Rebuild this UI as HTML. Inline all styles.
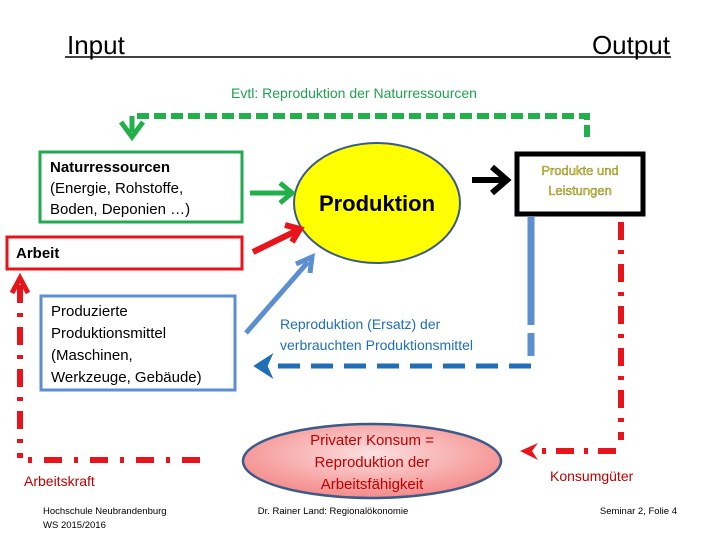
<!DOCTYPE html>
<html><head><meta charset="utf-8"><style>
html,body{margin:0;padding:0;background:#fff;}
svg{display:block;font-family:"Liberation Sans",sans-serif;}
</style></head><body>
<svg width="720" height="540" viewBox="0 0 720 540" xmlns="http://www.w3.org/2000/svg">
<defs>
<radialGradient id="pk" cx="50%" cy="40%" r="60%"><stop offset="0" stop-color="#fde0e0"/><stop offset="1" stop-color="#f48a8a"/></radialGradient>
</defs>
<!-- titles -->
<text x="67" y="54" font-size="26" fill="#000">Input</text>
<text x="670" y="54" font-size="26" fill="#000" text-anchor="end">Output</text>
<line x1="65" y1="57" x2="671" y2="57" stroke="#000" stroke-width="1.5"/>
<text x="354" y="98" font-size="14" fill="#22a050" text-anchor="middle">Evtl: Reproduktion der Naturressourcen</text>
<!-- green dashed -->
<path d="M587 137 V116 H132" fill="none" stroke="#22b04a" stroke-width="6" stroke-dasharray="12,5"/>
<line x1="132" y1="116" x2="132" y2="132" stroke="#22b04a" stroke-width="5"/>
<path d="M121 122 L132 137 L143 122" fill="none" stroke="#22b04a" stroke-width="5"/>
<!-- green box -->
<rect x="40" y="152" width="202" height="70" fill="#fff" stroke="#22aa50" stroke-width="3"/>
<text font-size="15" fill="#000"><tspan x="50" y="172" font-weight="bold">Naturressourcen</tspan><tspan x="50" y="193">(Energie, Rohstoffe,</tspan><tspan x="50" y="214">Boden, Deponien …)</tspan></text>
<!-- red Arbeit -->
<rect x="7" y="237" width="235" height="32" fill="#fff" stroke="#e8141c" stroke-width="3"/>
<text x="16" y="258" font-size="15" font-weight="bold" fill="#000">Arbeit</text>
<!-- blue box -->
<rect x="41" y="296" width="194" height="94" fill="#fff" stroke="#5b8fd0" stroke-width="3"/>
<text font-size="15" fill="#000"><tspan x="51" y="316">Produzierte</tspan><tspan x="51" y="338">Produktionsmittel</tspan><tspan x="51" y="360">(Maschinen,</tspan><tspan x="51" y="382">Werkzeuge, Gebäude)</tspan></text>
<!-- production ellipse -->
<ellipse cx="377" cy="203" rx="83" ry="60" fill="#ffff00" stroke="#3a5a8a" stroke-width="2"/>
<text x="377" y="211" font-size="22" font-weight="bold" fill="#000" text-anchor="middle">Produktion</text>
<!-- arrows into production -->
<line x1="250" y1="193" x2="288" y2="193" stroke="#22b04a" stroke-width="5"/>
<path d="M280 183 L292 193 L280 203" fill="none" stroke="#22b04a" stroke-width="5"/>
<line x1="253" y1="252" x2="296" y2="231" stroke="#e8141c" stroke-width="6"/>
<path d="M285 225 L300 229 L292 242" fill="none" stroke="#e8141c" stroke-width="6"/>
<line x1="246" y1="333" x2="308" y2="262" stroke="#5b8fd0" stroke-width="5"/>
<path d="M296 264 L312 257 L310 273" fill="none" stroke="#5b8fd0" stroke-width="5"/>
<line x1="472" y1="180" x2="503" y2="180" stroke="#000" stroke-width="6"/>
<path d="M492 167 L507 180 L492 193" fill="none" stroke="#000" stroke-width="6"/>
<!-- black box -->
<rect x="517" y="154" width="126" height="60" fill="#fff" stroke="#000" stroke-width="5"/>
<text font-size="13" fill="#e8e000" stroke="#444" stroke-width="0.3" text-anchor="middle"><tspan x="580" y="175">Produkte und</tspan><tspan x="580" y="195">Leistungen</tspan></text>
<!-- blue return -->
<line x1="531" y1="217" x2="531" y2="325" stroke="#5b8fd0" stroke-width="7"/>
<line x1="531" y1="333" x2="531" y2="356" stroke="#5b8fd0" stroke-width="7"/>
<line x1="531" y1="366" x2="275" y2="366" stroke="#1f6fb8" stroke-width="5" stroke-dasharray="22,11"/>
<path d="M270 357 L256 366 L270 375 L266 366 Z" fill="#1f6fb8" stroke="#1f6fb8" stroke-width="3"/>
<text font-size="14" fill="#1f6fb8"><tspan x="280" y="329">Reproduktion (Ersatz) der</tspan><tspan x="280" y="350">verbrauchten Produktionsmittel</tspan></text>
<!-- red right dash-dot -->
<line x1="621" y1="222" x2="621" y2="440" stroke="#e8141c" stroke-width="6" stroke-dasharray="18,10,4,10"/>
<line x1="616" y1="451" x2="540" y2="451" stroke="#e8141c" stroke-width="6" stroke-dasharray="18,10,4,10"/>
<path d="M538 443 L520 451 L538 460 L532 451 Z" fill="#e8141c"/>
<text x="550" y="481" font-size="14" fill="#c00000">Konsumgüter</text>
<!-- pink ellipse -->
<ellipse cx="372" cy="461" rx="129" ry="37" fill="url(#pk)" stroke="#3a5a8a" stroke-width="2.5"/>
<text font-size="15" fill="#c00000" text-anchor="middle"><tspan x="372" y="445">Privater Konsum =</tspan><tspan x="372" y="467">Reproduktion der</tspan><tspan x="372" y="489">Arbeitsfähigkeit</tspan></text>
<!-- red left dash-dot -->
<line x1="20" y1="285" x2="20" y2="458" stroke="#e8141c" stroke-width="6" stroke-dasharray="18,10,4,10"/>
<line x1="28" y1="460" x2="212" y2="460" stroke="#e8141c" stroke-width="6" stroke-dasharray="4,12,18,12"/>
<path d="M12 293 L20 278 L28 293" fill="none" stroke="#e8141c" stroke-width="5"/>
<text x="24" y="486" font-size="14" fill="#c00000">Arbeitskraft</text>
<!-- footers -->
<text font-size="9.5" fill="#000"><tspan x="43" y="514">Hochschule Neubrandenburg</tspan><tspan x="43" y="528">WS 2015/2016</tspan></text>
<text x="333" y="514" font-size="9.5" fill="#000" text-anchor="middle">Dr. Rainer Land: Regionalökonomie</text>
<text x="677" y="514" font-size="9.5" fill="#000" text-anchor="end">Seminar 2, Folie 4</text>
</svg>
</body></html>
